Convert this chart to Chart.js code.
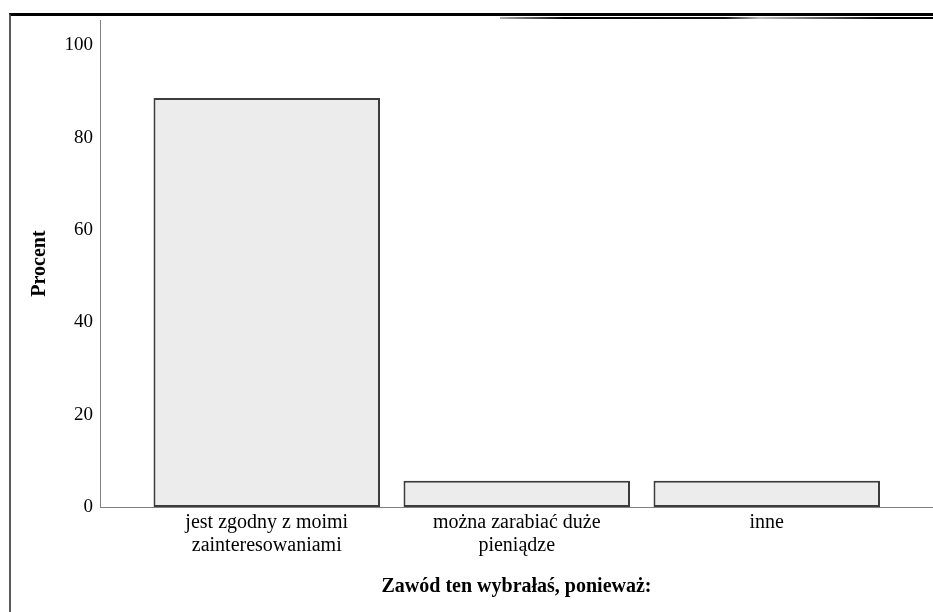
<!DOCTYPE html>
<html lang="pl">
  <head>
    <meta charset="UTF-8" />
    <title>Zawód ten wybrałaś, ponieważ:</title>
    <script src="https://cdn.jsdelivr.net/npm/chart.js@4.4.0/dist/chart.umd.min.js"></script>
    <style>
      body {
        margin: 0;
        background: #ffffff;
      }
      .wrap {
        position: relative;
        width: 933px;
        height: 612px;
        overflow: hidden;
      }
      /* frame lines from the exported picture */
      .frame {
        position: absolute;
        top: 13px;
        left: 9px;
        width: 930px;
        height: 610px;
        border-top: 3px solid #000;
        border-left: 2px solid #5a5a5a;
      }
      .frame2 {
        position: absolute;
        top: 17px;
        left: 500px;
        width: 433px;
        height: 2px;
        background: linear-gradient(to right, #aaa 0%, #000 15%, #111 52%, #bbb 60%, #000 88%);
      }
      canvas {
        position: absolute;
        top: 0;
        left: 0;
      }
    </style>
  </head>
  <body>
    <div class="wrap">
      <div class="frame"></div>
      <div class="frame2"></div>
      <canvas id="chart" width="933" height="612"></canvas>
    </div>

    <script>
      // Chart data
      const categories = [
        ["jest zgodny z moimi", "zainteresowaniami"],
        ["można zarabiać duże", "pieniądze"],
        ["inne"],
      ];
      const percentValues = [88.6, 5.7, 5.7];
      const yTicks = [0, 20, 40, 60, 80, 100];

      const serif = "'Liberation Serif', 'Times New Roman', serif";

      function init() {
        const ctx = document.getElementById("chart").getContext("2d");
        new Chart(ctx, {
          type: "bar",
          data: {
            datasets: [
              {
                label: "Procent",
                data: percentValues.map((v, i) => ({ x: i, y: v })),
                backgroundColor: "#ececec",
                borderColor: "#3c3c3c",
                borderWidth: 2,
                borderSkipped: false,
                categoryPercentage: 1,
                barPercentage: 0.906,
              },
            ],
          },
          options: {
            responsive: false,
            animation: false,
            layout: { padding: { top: 20, left: 0, right: 0, bottom: 0 } },
            plugins: {
              legend: { display: false },
              tooltip: { enabled: false },
            },
            scales: {
              x: {
                type: "linear",
                offset: false,
                min: -0.667,
                max: 2.665,
                grid: { display: false, drawTicks: false, offset: false },
                border: { display: true, color: "#808080", width: 1 },
                afterBuildTicks: (scale) => {
                  scale.ticks = categories.map((c, i) => ({ value: i }));
                },
                afterFit: (scale) => {
                  scale.height = 105;
                },
                ticks: {
                  autoSkip: false,
                  maxRotation: 0,
                  padding: 4,
                  color: "#000",
                  font: { family: serif, size: 20, lineHeight: 1.15 },
                  callback: (value) => categories[value],
                },
                title: {
                  display: true,
                  text: "Zawód ten wybrałaś, ponieważ:",
                  color: "#000",
                  font: { family: serif, size: 20, weight: "bold" },
                  padding: { top: 0, bottom: 13 },
                },
              },
              y: {
                min: 0,
                max: 105.5,
                grid: { display: false, drawTicks: false },
                border: { display: true, color: "#808080", width: 1 },
                afterBuildTicks: (scale) => {
                  scale.ticks = yTicks.map((v) => ({ value: v }));
                },
                afterFit: (scale) => {
                  scale.width = 100;
                },
                ticks: {
                  padding: 7,
                  color: "#000",
                  font: { family: serif, size: 19 },
                },
                title: {
                  display: true,
                  text: "Procent",
                  color: "#000",
                  font: { family: serif, size: 20, weight: "bold" },
                  padding: { top: 28, bottom: 0 },
                },
              },
            },
          },
        });
      }

      window.onload = init;
    </script>
  </body>
</html>
